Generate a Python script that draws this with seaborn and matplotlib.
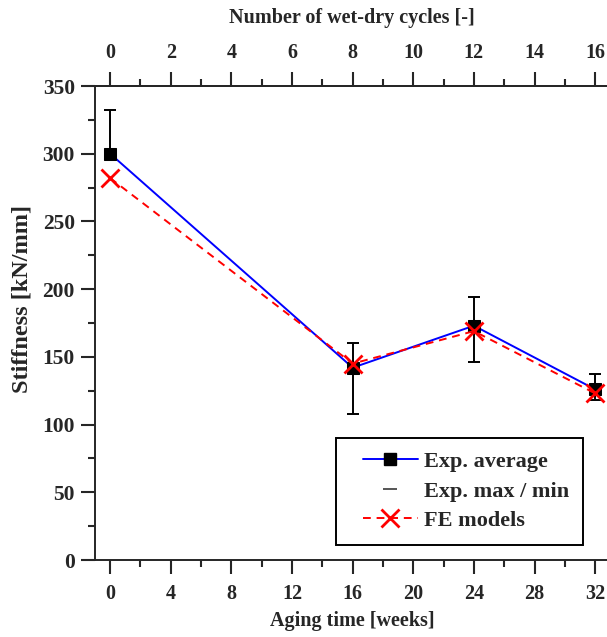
import matplotlib
matplotlib.use("Agg")
import matplotlib.pyplot as plt
import seaborn as sns
import pandas as pd
import numpy as np
from matplotlib.lines import Line2D
from matplotlib.legend_handler import HandlerLine2D
from matplotlib.ticker import MultipleLocator

weeks = [0, 16, 24, 32]
exp_avg = [300, 142, 173, 126]
exp_max = [332, 160, 194, 137]
exp_min = [300, 108, 146, 118]
fe_models = [282, 145, 169, 123]

sns.set_style("ticks")
plt.rcParams['font.family'] = ['Liberation Serif', 'DejaVu Serif']
plt.rcParams['font.weight'] = 'bold'

fig = plt.figure(figsize=(6.07, 6.37), dpi=100)
ax = fig.add_axes([95/607, 77/637, 1 - 95/607 + 0.003, (561-87)/637])

df = pd.DataFrame({"weeks": weeks, "avg": exp_avg, "fe": fe_models})

yerr = [np.array(exp_avg) - np.array(exp_min), np.array(exp_max) - np.array(exp_avg)]
ax.errorbar(weeks, exp_avg, yerr=yerr, fmt='none', ecolor='black', elinewidth=1.4,
            capsize=4, capthick=1.4, zorder=2)
sns.lineplot(data=df, x="weeks", y="avg", ax=ax, color='#0000ff', lw=1.4,
             marker='s', markersize=9, markerfacecolor='black', markeredgecolor='black', zorder=3)
sns.lineplot(data=df, x="weeks", y="fe", ax=ax, color='#ff0000', lw=1.4,
             linestyle=(0, (4, 3)), marker='x', markersize=13, markeredgewidth=2,
             markeredgecolor='#ff0000', zorder=4)

ax.set_xlim(-1, 32.9)
ax.set_ylim(0, 350)
ax.xaxis.set_major_locator(MultipleLocator(4))
ax.xaxis.set_minor_locator(MultipleLocator(2))
ax.yaxis.set_major_locator(MultipleLocator(50))
ax.yaxis.set_minor_locator(MultipleLocator(25))
ax.tick_params(which='major', length=10, width=1.5, direction='out')
ax.tick_params(which='minor', length=5, width=1.5, direction='out')
ax.tick_params(axis='x', which='major', labelsize=14.5, pad=7)
ax.tick_params(axis='y', which='major', labelsize=15.5, pad=4.5)
for lab in ax.get_xticklabels() + ax.get_yticklabels():
    lab.set_fontweight('bold')
ax.spines['right'].set_visible(False)
for s in ['left', 'bottom', 'top']:
    ax.spines[s].set_linewidth(1.4)

ax.set_xlabel("Aging time [weeks]", fontsize=14.5, fontweight='bold', labelpad=5)
ax.set_ylabel("Stiffness [kN/mm]", fontsize=17.5, fontweight='bold')
ax.yaxis.set_label_coords(-0.121, 0.551)

sec = ax.secondary_xaxis('top', functions=(lambda x: x / 2, lambda x: x * 2))
sec.xaxis.set_major_locator(MultipleLocator(2))
sec.xaxis.set_minor_locator(MultipleLocator(1))
sec.tick_params(which='major', length=10, width=1.5, direction='out', labelsize=14.5, pad=6.5)
sec.tick_params(which='minor', length=5, width=1.5, direction='out')
for lab in sec.get_xticklabels():
    lab.set_fontweight('bold')
sec.spines['top'].set_linewidth(1.4)
sec.set_xlabel("Number of wet-dry cycles [-]", fontsize=14.5, fontweight='bold', labelpad=14.5)


class ShiftHandler(HandlerLine2D):
    def create_artists(self, legend, orig_handle, xdescent, ydescent, width, height,
                       fontsize, trans):
        shift = 9.5
        return super().create_artists(legend, orig_handle, xdescent - shift, ydescent,
                                      width - shift, height, fontsize, trans)


handles = [
    Line2D([], [], color='#0000ff', lw=1.4, marker='s', markersize=9,
           markerfacecolor='black', markeredgecolor='black'),
    Line2D([], [], color='none', marker='_', markersize=10, markeredgecolor='#555555',
           markeredgewidth=1.4),
    Line2D([], [], color='#ff0000', lw=1.4, linestyle=(0, (4, 3)), marker='x',
           markersize=13, markeredgewidth=2, markeredgecolor='#ff0000'),
]
labels = ["Exp. average", "Exp. max / min", "FE models"]
hm = {h: ShiftHandler() for h in handles}
leg = ax.legend(handles, labels, loc='lower right', frameon=True, fancybox=False,
                edgecolor='black', framealpha=1, handlelength=3.06, handletextpad=0.27,
                borderpad=0.63, labelspacing=0.4, borderaxespad=0,
                prop={'weight': 'bold', 'size': 16}, handler_map=hm,
                bbox_to_anchor=((581 - 95) / 512, (561 - 546) / 474),
                bbox_transform=ax.transAxes)
leg.get_frame().set_linewidth(1.4)

fig.savefig("out.png", dpi=100)
